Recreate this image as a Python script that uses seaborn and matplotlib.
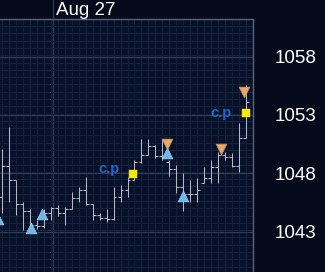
import numpy as np
import pandas as pd
import matplotlib
matplotlib.use("Agg")
import matplotlib.pyplot as plt
from matplotlib.ticker import MultipleLocator, FixedLocator
import seaborn as sns

# ---------------- data ----------------
bar_idx = list(range(36))
highs = [1050.1, 1052.0, 1047.4, 1045.5, 1044.9, 1044.0, 1044.9, 1045.1, 1045.3, 1045.1,
         1046.4, 1046.8, 1047.7, 1045.4, 1044.6, 1044.9, 1046.8, 1047.0, 1047.7, 1049.1,
         1050.9, 1050.9, 1050.4, 1050.9, 1049.1, 1048.7, 1048.0, 1047.4, 1047.6, 1048.5,
         1049.1, 1049.8, 1049.8, 1049.7, 1052.3, 1055.6]
lows = [1044.6, 1045.5, 1044.4, 1043.1, 1043.0, 1043.2, 1043.3, 1044.0, 1044.3, 1043.6,
        1044.9, 1045.5, 1045.3, 1044.0, 1044.0, 1043.8, 1044.0, 1045.5, 1046.0, 1047.4,
        1048.9, 1049.6, 1049.3, 1049.1, 1047.8, 1046.3, 1044.8, 1045.5, 1045.5, 1047.2,
        1047.2, 1047.2, 1049.1, 1048.5, 1048.1, 1051.0]
opens = [1046.0, 1048.6, 1047.4, 1045.4, 1044.8, 1043.6, 1043.5, 1044.6, 1045.0, 1044.6,
         1044.9, 1045.9, 1046.6, 1045.4, 1044.4, 1044.2, 1044.1, 1046.0, 1046.6, 1047.4,
         1049.0, 1049.6, 1050.3, 1049.5, 1049.0, 1048.4, 1046.8, 1046.2, 1046.2, 1047.2,
         1047.6, 1048.5, 1049.6, 1049.4, 1048.6, 1051.0]
closes = [1048.6, 1047.4, 1045.4, 1044.8, 1043.6, 1043.5, 1044.6, 1045.0, 1044.6, 1044.9,
          1045.9, 1046.6, 1045.4, 1044.4, 1044.2, 1044.1, 1046.0, 1046.6, 1047.4, 1049.0,
          1049.6, 1050.3, 1049.5, 1049.3, 1048.4, 1046.8, 1046.2, 1046.2, 1046.6, 1047.6,
          1048.5, 1049.6, 1049.4, 1048.6, 1051.0, 1054.1]

up_x = [-0.6, 4.1, 5.8, 23.7, 25.9]
up_y = [1044.1, 1043.3, 1044.5, 1049.75, 1046.05]
down_x = [23.7, 31.4, 34.7]
down_y = [1050.55, 1050.05, 1055.0]
square_x = [18.75, 35.0]
square_y = [1047.9, 1053.15]
cp_x = [16.8, 33.0]
cp_y = [1048.05, 1052.85]
cp_text = ["c.p", "c.p"]

ytick_values = [1043, 1048, 1053, 1058]
ytick_labels = ["1043", "1048", "1053", "1058"]
day_sep_x = 7.3
day_label = "Aug 27"

# ---------------- style ----------------
sns.set_style("dark")
plt.rcParams["font.family"] = ["Liberation Sans", "DejaVu Sans"]

BG_OUT = "#040a19"
BG_IN = "#08112a"
MAJ = "#313b55"
MIN = "#16213b"
BAR = "#b4b8c2"
SPINE = "#5d6579"

fig = plt.figure(figsize=(3.25, 2.72), dpi=100, facecolor=BG_OUT)
ax = fig.add_axes([0, 0, 253 / 325, 253 / 272])
ax.set_facecolor(BG_IN)

ax.set_xlim(-0.287, 36.0)
ax.set_ylim(1039.54, 1061.23)

# grid
ax.set_axisbelow(True)
ax.xaxis.set_major_locator(FixedLocator([day_sep_x]))
ax.xaxis.set_minor_locator(FixedLocator(bar_idx))
ax.yaxis.set_major_locator(FixedLocator(ytick_values))
ax.yaxis.set_minor_locator(MultipleLocator(0.625))
ax.grid(which="major", color=MAJ, lw=0.9)
ax.grid(which="minor", color=MIN, lw=0.7)
ax.set_xticklabels([])
ax.tick_params(axis="x", which="both", length=0)

ax.yaxis.tick_right()
ax.set_yticklabels(ytick_labels)
ax.tick_params(axis="y", which="both", length=0, pad=15.5, labelsize=13.5,
               labelcolor="white")

for side in ["left", "bottom"]:
    ax.spines[side].set_visible(False)
for side in ["top", "right"]:
    ax.spines[side].set_visible(True)
    ax.spines[side].set_color(SPINE)
    ax.spines[side].set_linewidth(1.0)

# day separator extends into header
ax.vlines(day_sep_x, 1061.23, 1063.0, color=MAJ, lw=0.9, clip_on=False)
fig.text(56 / 325, 1 - 15 / 272, day_label, color="white", fontsize=13.5,
         ha="left", va="baseline")

# OHLC bars
idx = np.array(bar_idx, dtype=float)
ax.vlines(idx, lows, highs, color=BAR, lw=0.75, zorder=3)
ax.hlines(opens, idx - 0.42, idx, color=BAR, lw=0.75, zorder=3)
ax.hlines(closes, idx, idx + 0.42, color=BAR, lw=0.75, zorder=3)

# markers
sns.scatterplot(x=up_x, y=up_y, marker="^", s=60, color="#6cb6ea",
                edgecolor="#9fd0f2", linewidth=0.5, ax=ax, zorder=5)
sns.scatterplot(x=down_x, y=down_y, marker="v", s=60, color="#e7a96c",
                edgecolor="#c48d5a", linewidth=0.5, ax=ax, zorder=5)
sns.scatterplot(x=square_x, y=square_y, marker="s", s=36, color="#f7ea00",
                edgecolor="#f7ea00", linewidth=0.3, ax=ax, zorder=6)

for tx, ty, t in zip(cp_x, cp_y, cp_text):
    ax.text(tx, ty, t, color="#2464c4", fontsize=10.5, fontweight="bold",
            ha="right", va="baseline", zorder=6)

ax.set_xlabel("")
ax.set_ylabel("")

fig.savefig("out.png", dpi=100, facecolor=BG_OUT)
